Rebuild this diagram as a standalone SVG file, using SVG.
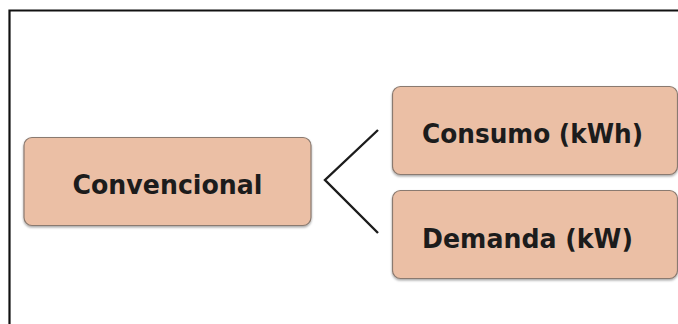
<svg xmlns="http://www.w3.org/2000/svg" width="678" height="324" viewBox="0 0 678 324">
  <defs>
    <filter id="shadow" x="-5%" y="-5%" width="110%" height="120%">
      <feDropShadow dx="0" dy="1.5" stdDeviation="1" flood-color="#000" flood-opacity="0.35"/>
    </filter>
  </defs>
  <style>
    .box { fill: #ebbfa5; stroke: #8a7a70; stroke-width: 1.2; filter: url(#shadow); }
    .label { font-family: "DejaVu Sans", "Liberation Sans", sans-serif; font-size: 27px; font-weight: bold; fill: #1c1c1c; text-anchor: middle; dominant-baseline: central; }
    .link { fill: none; stroke: #1c1c1c; stroke-width: 2.4; }
  </style>
  <rect width="678" height="324" fill="#ffffff"/>
  <!-- frame -->
  <path d="M9.5 324 V10.5 H678" fill="none" stroke="#111" stroke-width="2.2"/>

  <g id="convencional">
    <rect class="box" x="24" y="137.5" width="287" height="88" rx="8"/>
    <text class="label" x="167.5" y="184" textLength="190" lengthAdjust="spacingAndGlyphs">Convencional</text>
  </g>

  <g id="consumo">
    <rect class="box" x="392.5" y="86.5" width="285" height="88" rx="8"/>
    <text class="label" x="532.5" y="133" textLength="221" lengthAdjust="spacingAndGlyphs">Consumo (kWh)</text>
  </g>

  <g id="demanda">
    <rect class="box" x="392.5" y="190.5" width="285" height="88" rx="8"/>
    <text class="label" x="527.5" y="238" textLength="211" lengthAdjust="spacingAndGlyphs">Demanda (kW)</text>
  </g>

  <g id="connectors">
    <polyline class="link" points="378,130 325,180 378,233"/>
  </g>
</svg>
